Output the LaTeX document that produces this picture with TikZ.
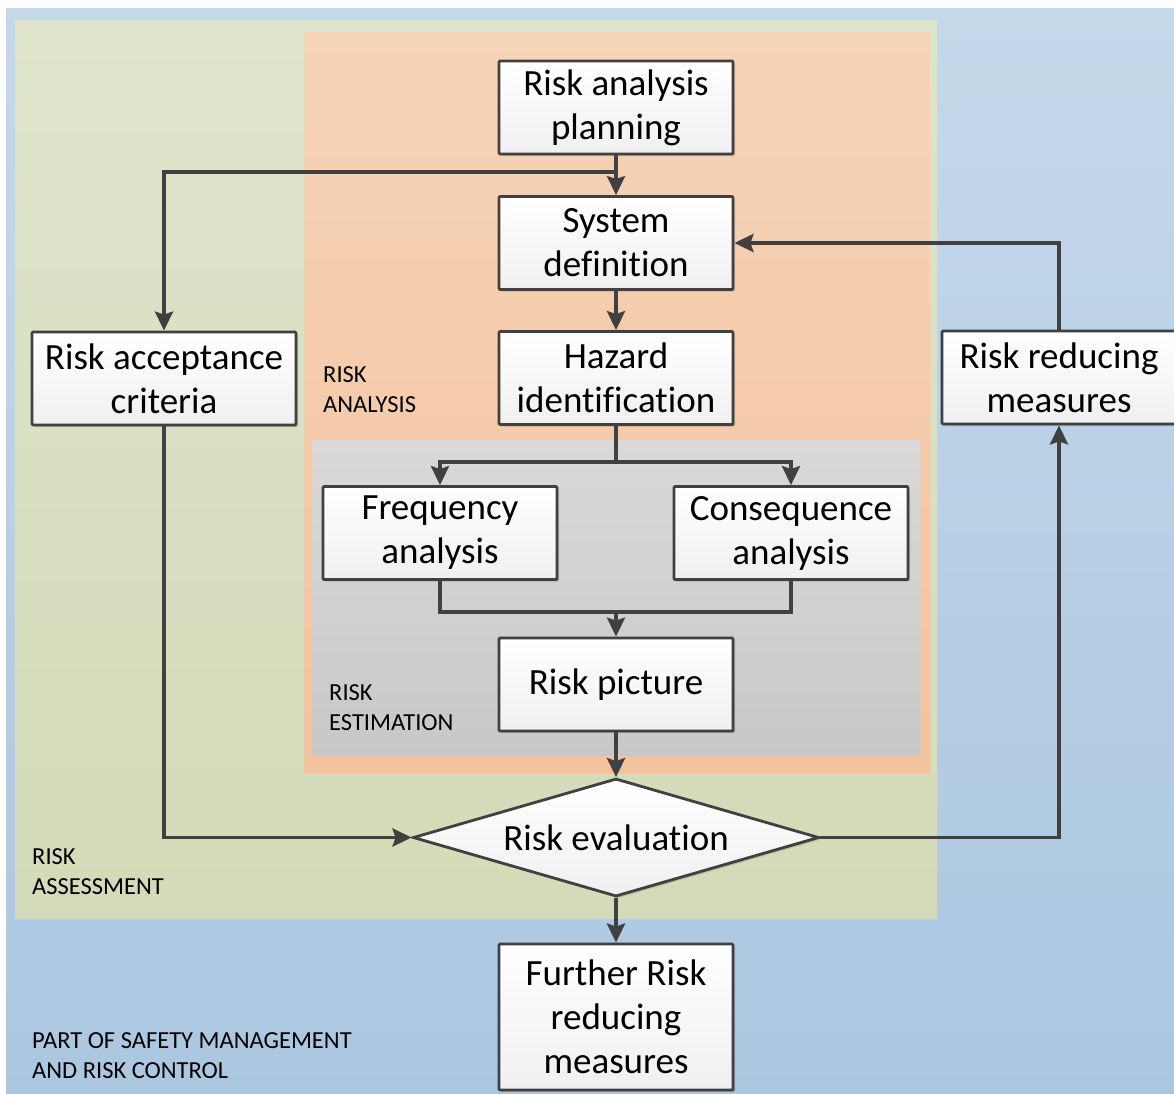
\documentclass[tikz,border=0pt]{standalone}
\usepackage{fontspec}
\setmainfont{Carlito}[Ligatures=CommonOff]
\usetikzlibrary{arrows.meta,shapes.geometric,shadows}
\definecolor{lnc}{HTML}{404040}
\definecolor{bluetop}{HTML}{C5D8EA}
\definecolor{bluebot}{HTML}{ABC7E0}
\definecolor{greentop}{HTML}{DFE4CC}
\definecolor{greenbot}{HTML}{D3DBB8}
\definecolor{orangetop}{HTML}{F6D4B8}
\definecolor{orangebot}{HTML}{F3C29E}
\definecolor{greytop}{HTML}{D9D9D9}
\definecolor{greybot}{HTML}{C8C8C8}
\tikzset{
  boxnode/.style={draw=lnc, line width=2.8pt, top color=white, bottom color=black!6,
    minimum width=234pt, minimum height=93pt, inner sep=0pt, align=center,
    font=\fontsize{37}{44}\selectfont, rounded corners=1pt,
    drop shadow={shadow xshift=2pt, shadow yshift=-2pt, fill=black, opacity=0.15}},
  decnode/.style={draw=lnc, line width=2.8pt, diamond, shape aspect=3.44, top color=white, bottom color=black!6,
    minimum width=406pt, minimum height=118pt, inner sep=0pt,
    font=\fontsize{37}{44}\selectfont,
    drop shadow={shadow xshift=2pt, shadow yshift=-2pt, fill=black, opacity=0.15}},
  areanode/.style={anchor=west, align=left, inner sep=0pt, font=\fontsize{24.5}{30}\selectfont},
  conn/.style={draw=lnc, line width=3.8pt},
  arr/.style={conn, -{Stealth[length=19pt,width=18pt,inset=3pt]}},
}
\begin{document}
\begin{tikzpicture}[x=1pt,y=-1pt]
\useasboundingbox (0,0) rectangle (1174,1093);
% background areas
\shade[top color=bluetop, bottom color=bluebot] (6,8) rectangle (1176,1095);
\shade[top color=greentop, bottom color=greenbot] (15,20) rectangle (937,918);
\shade[top color=orangetop, bottom color=orangebot] (304,32) rectangle (930,773);
\shade[top color=greytop, bottom color=greybot] (312,440) rectangle (920,755);
% area labels
\node[areanode] (lblana) at (323,390) {RISK\\ANALYSIS};
\node[areanode] (lblest) at (329,708) {RISK\\ESTIMATION};
\node[areanode] (lblass) at (32,872) {RISK\\ASSESSMENT};
\node[areanode] (lblsm) at (32,1055.5) {PART OF SAFETY MANAGEMENT\\AND RISK CONTROL};
% boxes
\node[boxnode] (plan) at (616,107.5) {Risk analysis\\planning};
\node[boxnode] (sys) at (616,243) {System\\definition};
\node[boxnode] (haz) at (616,378) {Hazard\\identification};
\node[boxnode, minimum width=264pt] (crit) at (164,378.5) {Risk acceptance\\criteria};
\node[boxnode] (red) at (1059,377.5) {Risk reducing\\measures};
\node[boxnode] (freq) at (440,533) {Frequency\\analysis};
\node[boxnode] (cons) at (791,533) {Consequence\\analysis};
\node[boxnode] (pic) at (616,684.5) {Risk picture};
\node[decnode] (eval) at (616,837.5) {Risk evaluation};
\node[boxnode, minimum height=146pt] (fur) at (616,1017) {Further Risk\\reducing\\measures};
% junction coordinates
\coordinate (j1) at (616,172);
\coordinate (j2) at (616,462);
\coordinate (j3) at (616,612);
% connectors
\draw[arr] (plan.south) -- (sys.north);
\draw[arr] (j1) -| (crit.north);
\draw[arr] (sys.south) -- (haz.north);
\draw[conn] (haz.south) -- (j2);
\draw[arr] (j2) -| (freq.north);
\draw[arr] (j2) -| (cons.north);
\draw[conn] (freq.south) |- (j3);
\draw[conn] (cons.south) |- (j3);
\draw[arr] (j3) -- (pic.north);
\draw[arr] (pic.south) -- (eval.north);
\draw[arr] (crit.south) |- (eval.west);
\draw[arr] (eval.east) -| (red.south);
\draw[arr] (red.north) |- (sys.east);
\draw[arr] (eval.south) -- (fur.north);
\end{tikzpicture}
\end{document}
